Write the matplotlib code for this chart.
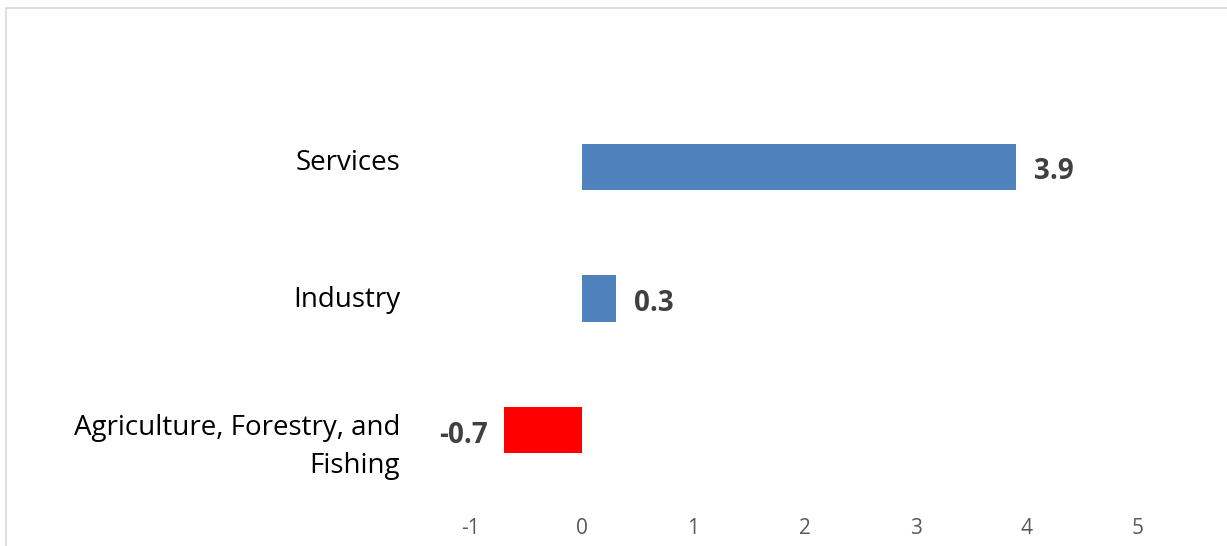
import numpy as np
import matplotlib.pyplot as plt
import matplotlib.transforms as mtransforms
from matplotlib.patches import Rectangle

# datos del grafico
sectores = ["Agriculture, Forestry, and\nFishing", "Industry", "Services"]
valores = [-0.7, 0.3, 3.9]
colores = ["#ff0000", "#4f81bd", "#4f81bd"]
ticks_x = [-1, 0, 1, 2, 3, 4, 5]

plt.rcParams['font.family'] = ['Open Sans', 'DejaVu Sans']

fig = plt.figure(figsize=(12.27, 5.46), dpi=100)
ax = fig.add_axes([471 / 1227, 1 - 496 / 546, (1138 - 471) / 1227, (496 - 101) / 546])

y = np.arange(len(sectores))
ax.barh(y, valores, height=0.35, color=colores)

ax.set_xlim(-1, 5)
ax.set_ylim(-0.5, 2.5)
ax.set_xticks(ticks_x)
ax.set_xticklabels([str(t) for t in ticks_x], fontsize=15, color="#595959")
ax.set_yticks(y)
ax.set_yticklabels(sectores, fontsize=20, color="black", multialignment="right", linespacing=1.5)
ax.tick_params(axis="x", length=0, pad=16)
ax.tick_params(axis="y", length=0, pad=51)
for s in ax.spines.values():
    s.set_visible(False)

# pequeño ajuste vertical de las etiquetas de categoria (px)
desplaz = [8, -2, -7]
for lab, d in zip(ax.get_yticklabels(), desplaz):
    lab.set_transform(lab.get_transform() +
                      mtransforms.ScaledTranslation(0, -d / 100, fig.dpi_scale_trans))

# etiquetas de valores
for yi, v in zip(y, valores):
    if v >= 0:
        ax.annotate(f"{v:.1f}", (v, yi), xytext=(13, -3.5), textcoords="offset points",
                    ha="left", va="center", fontsize=20, fontweight="bold", color="#404040")
    else:
        ax.annotate(f"{v:.1f}", (v, yi), xytext=(-12, -3.5), textcoords="offset points",
                    ha="right", va="center", fontsize=20, fontweight="bold", color="#404040")

# borde gris del area del grafico
fig.patches.append(Rectangle((6 / 1227, -0.1), 1.2, 1 - 8 / 546 + 0.1, transform=fig.transFigure,
                             fill=False, edgecolor="#d9d9d9", linewidth=1.2))

fig.savefig("out.png", dpi=100)
